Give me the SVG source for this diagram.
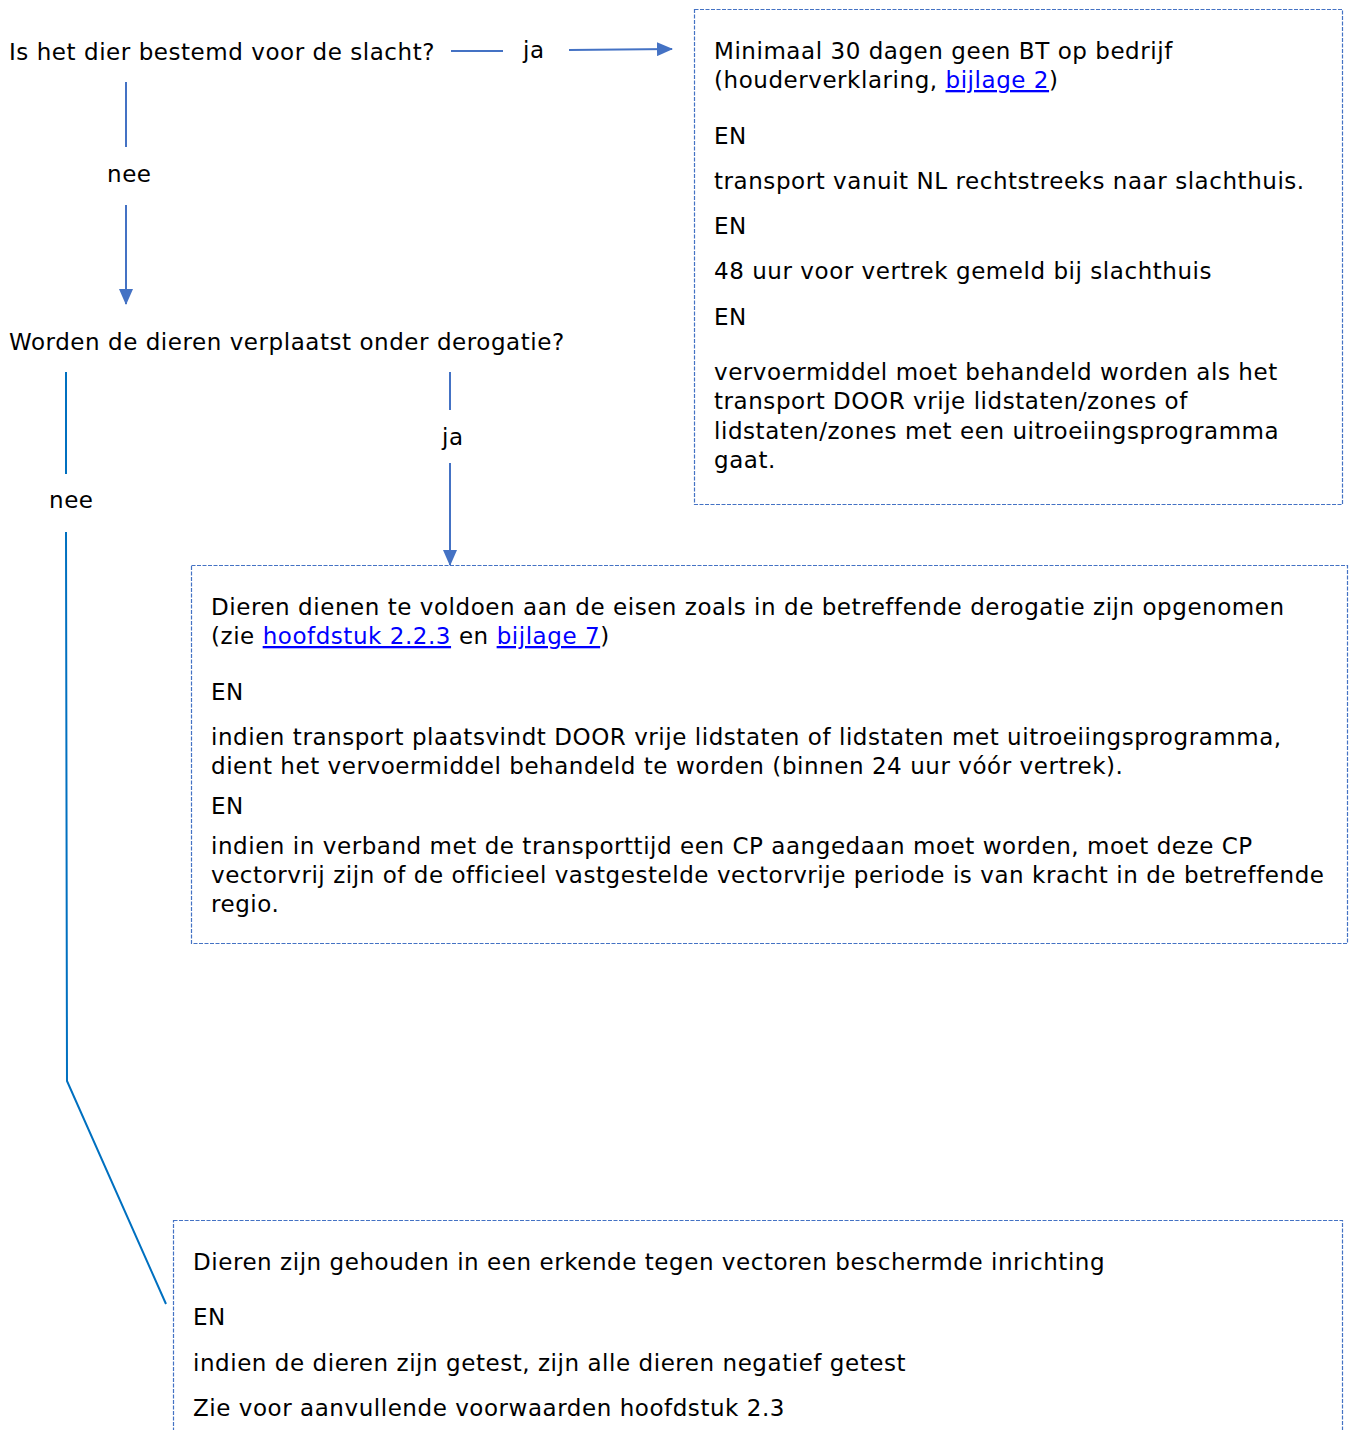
<svg xmlns="http://www.w3.org/2000/svg" width="1349" height="1430" viewBox="0 0 1349 1430">
<style>
text{font-family:"DejaVu Sans","Liberation Sans",sans-serif;font-size:23px;letter-spacing:0.55px;fill:#000}
.box{fill:none;stroke:#4472C4;stroke-width:1.2;stroke-dasharray:4 1.5}
.ln{stroke:#4472C4;stroke-width:2;fill:none}
.ln2{stroke:#0070C0;stroke-width:2;fill:none}
.lk{fill:#0000FF;text-decoration:underline}
</style>
<defs>
<marker id="ah2" markerWidth="16" markerHeight="14" refX="15" refY="7" orient="auto" markerUnits="userSpaceOnUse" viewBox="0 0 16 14">
<path d="M0,0 L16,7 L0,14 z" fill="#4472C4"/>
</marker>
</defs>
<g id="connectors">
<line class="ln" x1="451" y1="51" x2="503" y2="51"/>
<line class="ln" x1="569" y1="50" x2="672" y2="49" marker-end="url(#ah2)"/>
<line class="ln" x1="126" y1="82" x2="126" y2="147"/>
<line class="ln" x1="126" y1="205" x2="126" y2="304" marker-end="url(#ah2)"/>
<line class="ln" x1="450" y1="372" x2="450" y2="410"/>
<line class="ln" x1="450" y1="463" x2="450" y2="565" marker-end="url(#ah2)"/>
<line class="ln2" x1="66" y1="372" x2="66" y2="474"/>
<polyline class="ln2" points="66,532 67,1081 166,1304"/>
<text x="523" y="58">ja</text>
<text x="107" y="182">nee</text>
<text x="442" y="445">ja</text>
<text x="49" y="508">nee</text>
</g>
<g id="q1"><text x="9" y="60">Is het dier bestemd voor de slacht?</text></g>
<g id="q2"><text x="9" y="350">Worden de dieren verplaatst onder derogatie?</text></g>
<g id="box1">
<rect class="box" x="694.5" y="9.5" width="648" height="495"/>
<text x="714" y="59">Minimaal 30 dagen geen BT op bedrijf</text>
<text x="714" y="88">(houderverklaring, <tspan class="lk">bijlage 2</tspan>)</text>
<text x="714" y="144">EN</text>
<text x="714" y="189">transport vanuit NL rechtstreeks naar slachthuis.</text>
<text x="714" y="234">EN</text>
<text x="714" y="279">48 uur voor vertrek gemeld bij slachthuis</text>
<text x="714" y="325">EN</text>
<text x="714" y="380">vervoermiddel moet behandeld worden als het</text>
<text x="714" y="409">transport DOOR vrije lidstaten/zones of</text>
<text x="714" y="439">lidstaten/zones met een uitroeiingsprogramma</text>
<text x="714" y="468">gaat.</text>
</g>
<g id="box2">
<rect class="box" x="191.5" y="565.5" width="1156" height="378"/>
<text x="211" y="615">Dieren dienen te voldoen aan de eisen zoals in de betreffende derogatie zijn opgenomen</text>
<text x="211" y="644">(zie <tspan class="lk">hoofdstuk 2.2.3</tspan> en <tspan class="lk">bijlage 7</tspan>)</text>
<text x="211" y="700">EN</text>
<text x="211" y="745">indien transport plaatsvindt DOOR vrije lidstaten of lidstaten met uitroeiingsprogramma,</text>
<text x="211" y="774">dient het vervoermiddel behandeld te worden (binnen 24 uur vóór vertrek).</text>
<text x="211" y="814">EN</text>
<text x="211" y="854">indien in verband met de transporttijd een CP aangedaan moet worden, moet deze CP</text>
<text x="211" y="883">vectorvrij zijn of de officieel vastgestelde vectorvrije periode is van kracht in de betreffende</text>
<text x="211" y="912">regio.</text>
</g>
<g id="box3">
<rect class="box" x="173.5" y="1220.5" width="1169" height="240"/>
<text x="193" y="1270">Dieren zijn gehouden in een erkende tegen vectoren beschermde inrichting</text>
<text x="193" y="1325">EN</text>
<text x="193" y="1371">indien de dieren zijn getest, zijn alle dieren negatief getest</text>
<text x="193" y="1416">Zie voor aanvullende voorwaarden hoofdstuk 2.3</text>
</g>
</svg>
